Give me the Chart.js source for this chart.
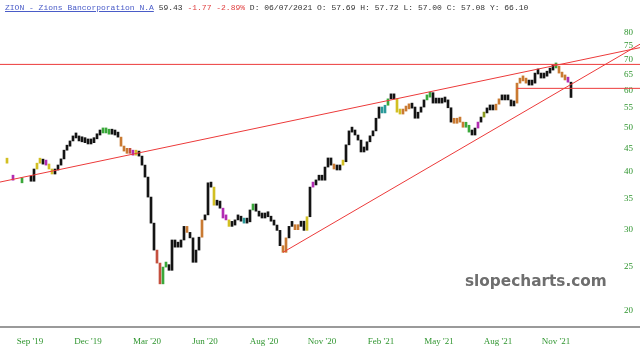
<!DOCTYPE html>
<html><head><meta charset="utf-8">
<script src="https://cdn.jsdelivr.net/npm/chart.js@4.4.0/dist/chart.umd.min.js"></script>
<style>
html,body{margin:0;padding:0;background:#fff;}
#wrap{position:relative;width:640px;height:358px;overflow:hidden;}
#hdr{position:absolute;left:5px;top:3px;font:8px "Liberation Mono",monospace;color:#333;white-space:pre;}
#hdr .tk{color:#4a5cc8;text-decoration:underline;}
#hdr .dn{color:#e04040;}
#wm{position:absolute;left:465px;top:272px;font:bold 15.3px "DejaVu Sans",sans-serif;color:#6e6e6e;white-space:nowrap;}
</style></head><body>
<div id="wrap"><canvas id="c" width="640" height="358"></canvas>
<div id="hdr"><span class="tk">ZION - Zions Bancorporation N.A</span> 59.43 <span class="dn">-1.77 -2.89%</span> D: 06/07/2021 O: 57.69 H: 57.72 L: 57.00 C: 57.08 Y: 66.10</div>
<div id="wm">slopecharts.com</div></div>
<script>
// closing price of each (roughly 3-day) bar; null = no bar
const price = [
41.8, null, 38.4, null, null, 37.9, null, null,
38.2, 40.6, 41.8, 42.1, 41.6, 41.4, 40.6, 39.6, 40.4, 41.4,
42.7, 44.6, 45.5, 46.7, 47.6, 47.4, 46.7, 46.5, 46.3, 46.0,
46.3, 47.2, 48.1, 48.6, 48.6, 48.6, 48.3, 48.3, 48.1, 47.6,
45.5, 44.4, 43.9, 44.2, 43.5, 43.7, 43.3, 41.4, 39.0, 35.3,
31.0, 27.1, 25.4, 22.9, 24.9, 25.2, 24.5, 28.5, 27.5, 27.5,
28.5, 30.5, 29.6, 28.8, 25.5, 27.1, 28.9, 31.5, 32.3, 37.9,
37.1, 33.9, 34.6, 33.4, 31.8, 31.5, 30.5, 30.7, 31.5, 31.6,
31.3, 31.0, 31.2, 33.1, 34.1, 32.9, 32.1, 31.8, 32.1, 32.0,
31.3, 30.7, 29.9, 27.7, 26.8, 28.8, 30.5, 30.5, 30.0, 30.5,
31.3, 29.9, 32.0, 37.1, 37.5, 38.4, 38.4, 38.4, 41.0, 42.9,
41.4, 40.6, 40.4, 41.4, 42.1, 45.8, 49.1, 48.8, 48.1, 46.9,
44.2, 44.6, 46.5, 47.9, 49.1, 52.3, 55.3, 53.7, 55.8, 57.6,
58.1, 57.6, 53.9, 53.4, 54.2, 54.8, 55.0, 55.3, 52.3, 53.9,
55.3, 57.3, 58.1, 59.4, 56.4, 56.7, 56.4, 56.7, 57.3, 55.1,
51.3, 51.0, 52.3, 51.3, 50.0, 50.5, 48.8, 48.1, 49.8, 51.3,
52.6, 53.7, 54.8, 54.5, 54.5, 56.1, 57.6, 57.3, 57.6, 57.3,
55.6, 56.4, 62.3, 63.6, 63.0, 62.3, 61.7, 62.3, 65.5, 65.2,
63.9, 64.5, 65.5, 66.5, 67.2, 67.8, 65.5, 64.2, 63.3, 62.6,
58.0
];
// indicator colour runs: [firstBar, lastBar, code]
const colorRuns = [
[0,0,'y'],[2,2,'m'],[5,5,'g'],[10,11,'y'],[13,13,'m'],[14,15,'y'],[32,34,'g'],
[38,40,'o'],[41,41,'r'],[42,42,'m'],[43,43,'y'],[50,51,'r'],[52,53,'g'],[60,60,'o'],
[65,65,'o'],[69,69,'y'],[72,73,'m'],[74,74,'y'],[79,79,'t'],[82,82,'g'],[92,93,'o'],
[96,97,'o'],[100,100,'y'],[102,102,'m'],[109,109,'o'],[112,112,'y'],[125,126,'t'],
[127,127,'g'],[130,131,'y'],[132,134,'o'],[140,141,'g'],[149,152,'o'],[153,154,'g'],
[157,157,'m'],[159,159,'v'],[163,164,'o'],[170,173,'o'],[183,183,'g'],[184,186,'o'],[187,187,'m']
];
const palette = {k:'#141414',o:'#c97a32',r:'#c4503e',y:'#d2bf22',g:'#3aa83a',m:'#b22cb2',t:'#2a9a9a',v:'#8a9a20'};
const tickPos = [7.67, 27, 46.67, 66, 85.67, 105, 124.67, 144, 163.67, 183];
const tickLabels = ["Sep '19","Dec '19","Mar '20","Jun '20","Aug '20","Nov '20","Feb '21","May '21","Aug '21","Nov '21"];
const yTicks = [20,25,30,35,40,45,50,55,60,65,70,75,80];
// trend lines: two anchor points [barIndex, price]
const trendLines = [
  {a:[8,39.3], b:[183,68.1], extL:true},
  {a:[92,26.8], b:[188,61.9], extL:false},
  {a:[0,68.4], b:[188,68.4], extL:true},
  {a:[170,60.7], b:[188,60.7], extL:false}
];

const codes = price.map(()=> 'k');
colorRuns.forEach(([s,e,c])=>{ for(let i=s;i<=e;i++) codes[i]=c; });
const pts = [], cols = [];
price.forEach((p,i)=>{
  if (p==null) return;
  const prev = (i>0 && price[i-1]!=null) ? price[i-1] : p;
  pts.push({x:i, y:[prev,p]});
  cols.push(palette[codes[i]]);
});

const overlay = {
  id:'overlay',
  afterDatasetsDraw(chart){
    const {ctx, scales:{x,y}} = chart;
    ctx.save();
    ctx.strokeStyle = '#ec3a3a'; ctx.lineWidth = 1;
    trendLines.forEach(l=>{
      const x1=x.getPixelForValue(l.a[0]), y1=y.getPixelForValue(l.a[1]);
      const x2=x.getPixelForValue(l.b[0]), y2=y.getPixelForValue(l.b[1]);
      const m=(y2-y1)/(x2-x1);
      const L = l.extL ? 0 : x1, R = chart.width;
      ctx.beginPath(); ctx.moveTo(L, y1+m*(L-x1)); ctx.lineTo(R, y1+m*(R-x1)); ctx.stroke();
    });
    ctx.strokeStyle = '#9a9a9a'; ctx.lineWidth = 2;
    const by = chart.chartArea.bottom + 1;
    ctx.beginPath(); ctx.moveTo(0,by); ctx.lineTo(chart.width,by); ctx.stroke();
    ctx.restore();
  }
};

new Chart(document.getElementById('c'), {
  type:'bar',
  data:{ datasets:[{ data: pts, backgroundColor: cols, barThickness:2, minBarLength:5, borderWidth:0 }]},
  options:{
    responsive:false, animation:false, devicePixelRatio:1,
    layout:{padding:0},
    plugins:{legend:{display:false}, tooltip:{enabled:false}},
    scales:{
      x:{ type:'linear', min:-7/3, max:203, offset:false,
          grid:{display:false, drawTicks:false}, border:{display:false},
          afterBuildTicks:s=>{ s.ticks = tickPos.map(v=>({value:v})); },
          afterFit:s=>{ s.height = 32; s.paddingLeft = 0; s.paddingRight = 0; },
          ticks:{ autoSkip:false, maxRotation:0, padding:10, color:'#2f952f',
                  font:{family:'"Liberation Serif", serif', size:9},
                  callback:(v,i)=>tickLabels[i] } },
      y:{ type:'logarithmic', position:'right', min:18.56, max:94.3,
          grid:{display:false, drawTicks:false}, border:{display:false},
          afterBuildTicks:s=>{ s.ticks = yTicks.map(v=>({value:v})); },
          afterFit:s=>{ s.width = 24; s.paddingTop = 0; s.paddingBottom = 0; },
          ticks:{ padding:8, color:'#2f952f', font:{family:'"Liberation Serif", serif', size:9},
                  callback:v=>String(v) } }
    }
  },
  plugins:[overlay]
});
</script></body></html>
